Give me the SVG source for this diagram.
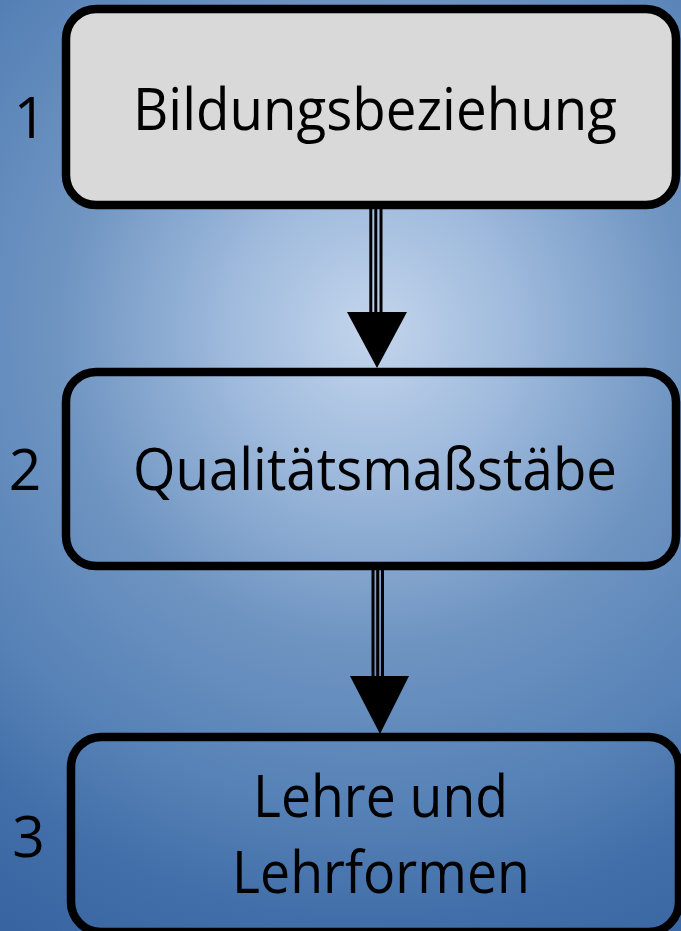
<svg xmlns="http://www.w3.org/2000/svg" width="681" height="931" viewBox="0 0 681 931">
<defs>
<radialGradient id="bg" gradientUnits="userSpaceOnUse" cx="372" cy="330" r="700">
<stop offset="0" stop-color="#c3d5ec"/>
<stop offset="0.2" stop-color="#a0bbdd"/>
<stop offset="0.45" stop-color="#6e94c1"/>
<stop offset="0.68" stop-color="#5782b7"/>
<stop offset="0.84" stop-color="#426fa9"/>
<stop offset="1" stop-color="#3865a1"/>
</radialGradient>
</defs>
<style>
.box{stroke:#000;stroke-width:8.5;}
.t{font-family:"Open Sans","Liberation Sans",sans-serif;font-size:59px;fill:#000;}
.n{font-family:"Open Sans","Liberation Sans",sans-serif;font-size:57px;fill:#000;}
.ln{stroke:#000;stroke-width:3;}
</style>
<rect x="0" y="0" width="681" height="931" fill="url(#bg)"/>
<g id="connectors">
<g id="c1">
<line class="ln" x1="370.8" y1="208" x2="370.8" y2="314"/>
<line class="ln" x1="375.8" y1="208" x2="375.8" y2="314"/>
<line class="ln" x1="381" y1="208" x2="381" y2="314"/>
<polygon points="347,312 407,312 377,368"/>
</g>
<g id="c2">
<line class="ln" x1="373" y1="569" x2="373" y2="678"/>
<line class="ln" x1="377.7" y1="569" x2="377.7" y2="678"/>
<line class="ln" x1="382.5" y1="569" x2="382.5" y2="678"/>
<polygon points="350,676 409,676 380,734"/>
</g>
</g>
<g id="node1">
<rect class="box" x="66" y="9" width="610" height="196" rx="30" fill="#d9d9d9"/>
<text class="t" x="375" y="130" text-anchor="middle" textLength="484" lengthAdjust="spacingAndGlyphs">Bildungsbeziehung</text>
<text class="n" x="30" y="138" text-anchor="middle">1</text>
</g>
<g id="node2">
<rect class="box" x="66" y="372" width="610" height="194" rx="30" fill="none"/>
<text class="t" x="375" y="490" text-anchor="middle" textLength="484" lengthAdjust="spacingAndGlyphs">Qualitätsmaßstäbe</text>
<text class="n" x="25" y="490" text-anchor="middle">2</text>
</g>
<g id="node3">
<rect class="box" x="71" y="737" width="608" height="195" rx="30" fill="none"/>
<text class="t" x="380.5" y="817" text-anchor="middle" textLength="255" lengthAdjust="spacingAndGlyphs">Lehre und</text>
<text class="t" x="381" y="893" text-anchor="middle" textLength="298" lengthAdjust="spacingAndGlyphs">Lehrformen</text>
<text class="n" x="28.5" y="857" text-anchor="middle">3</text>
</g>
</svg>
